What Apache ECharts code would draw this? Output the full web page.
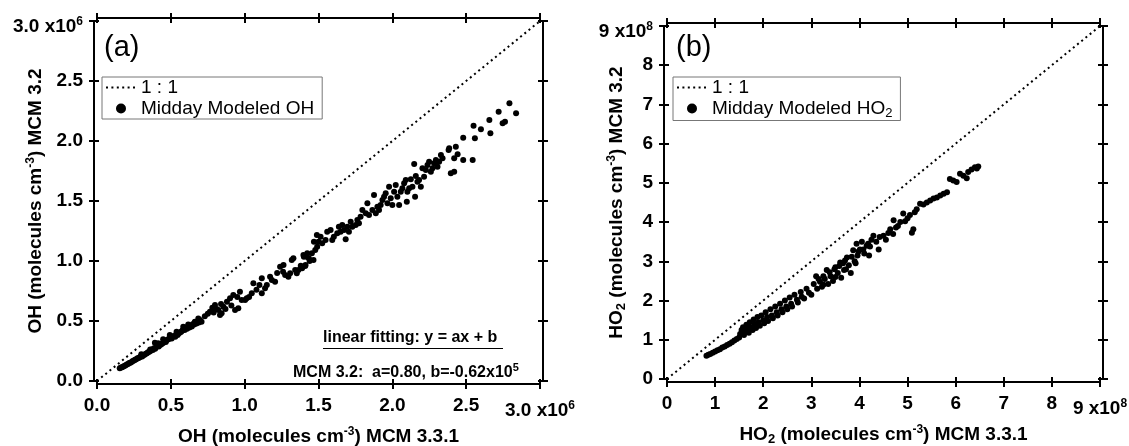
<!doctype html>
<html lang="en">
  <head>
    <meta charset="utf-8">
    <title>MCM 3.2 vs MCM 3.3.1 midday OH and HO2</title>
    <script src="https://cdn.jsdelivr.net/npm/echarts@6/dist/echarts.min.js"></script>
    <style>
      html, body { margin: 0; padding: 0; background: #fff; }
      #chart { width: 1129px; height: 446px; }
    </style>
  </head>
  <body>
    <div id="chart"></div>

  <script>
    // values
    // OH in units of 1e6 molecules cm-3 : [MCM 3.3.1, MCM 3.2]
    var ohMidday = [
      [0.154,0.106],[0.162,0.112],[0.170,0.115],[0.178,0.121],[0.186,0.126],[0.194,0.131],[0.202,0.138],[0.210,0.141],
      [0.218,0.149],[0.226,0.153],[0.234,0.158],[0.242,0.166],[0.250,0.170],[0.258,0.178],[0.266,0.181],[0.274,0.190],
      [0.282,0.192],[0.290,0.198],[0.298,0.207],[0.306,0.205],[0.314,0.214],[0.322,0.219],[0.330,0.228],[0.338,0.231],
      [0.346,0.240],[0.354,0.243],[0.362,0.250],[0.370,0.262],[0.378,0.259],[0.386,0.272],[0.394,0.268],[0.402,0.285],
      [0.410,0.291],[0.418,0.288],[0.426,0.300],[0.434,0.305],[0.442,0.312],[0.450,0.318],[0.458,0.331],[0.466,0.326],
      [0.474,0.342],[0.482,0.347],[0.490,0.352],[0.498,0.360],[0.506,0.355],[0.514,0.370],[0.522,0.375],[0.530,0.368],
      [0.538,0.392],[0.546,0.383],[0.554,0.398],[0.562,0.405],[0.570,0.411],[0.578,0.420],[0.586,0.432],[0.594,0.424],
      [0.602,0.446],[0.610,0.436],[0.618,0.452],[0.626,0.446],[0.634,0.462],[0.642,0.455],[0.650,0.475],[0.658,0.470],
      [0.666,0.492],[0.674,0.480],[0.686,0.520],[0.690,0.488],[0.698,0.508],[0.708,0.494],
      [0.300,0.222],[0.360,0.262],[0.392,0.319],[0.414,0.314],[0.448,0.347],[0.493,0.383],[0.539,0.411],[0.584,0.453],
      [0.618,0.470],[0.663,0.494],
      [0.730,0.540],[0.750,0.560],[0.765,0.578],[0.781,0.611],[0.790,0.570],[0.799,0.633],[0.810,0.600],[0.822,0.592],
      [0.833,0.550],[0.840,0.642],[0.844,0.564],[0.856,0.619],[0.870,0.600],[0.880,0.660],[0.901,0.689],[0.910,0.630],
      [0.923,0.717],[0.935,0.592],[0.950,0.700],[0.957,0.606],[0.968,0.744],[0.980,0.675],[1.003,0.675],[1.014,0.689],
      [1.030,0.700],[1.048,0.731],[1.059,0.814],[1.080,0.760],[1.100,0.800],[1.116,0.856],[1.116,0.731],[1.138,0.772],
      [1.150,0.800],[1.172,0.869],[1.184,0.842],[1.206,0.828],[1.220,0.900],[1.240,0.953],[1.260,0.910],[1.263,0.967],
      [1.274,0.883],[1.296,0.869],[1.308,0.897],[1.319,1.008],[1.330,1.022],[1.342,0.925],[1.353,0.897],[1.364,0.925],
      [1.380,0.960],[1.389,0.939],[1.398,1.050],[1.401,1.036],[1.410,0.958],[1.412,0.967],[1.421,1.036],[1.424,1.064],
      [1.435,1.022],[1.440,1.000],[1.455,1.064],[1.466,1.008],[1.469,1.161],[1.478,1.092],[1.489,1.217],[1.491,1.119],
      [1.500,1.161],[1.514,1.203],[1.525,1.147],[1.548,1.175],[1.559,1.244],[1.582,1.258],[1.593,1.175],[1.604,1.203],
      [1.627,1.231],[1.638,1.286],[1.650,1.244],[1.661,1.300],[1.673,1.258],[1.684,1.181],[1.695,1.286],[1.706,1.244],
      [1.718,1.328],[1.729,1.286],[1.752,1.300],[1.763,1.342],[1.774,1.314],[1.785,1.369],[1.797,1.425],[1.820,1.397],
      [1.831,1.481],[1.842,1.383],[1.865,1.425],[1.876,1.550],[1.888,1.397],[1.899,1.453],[1.910,1.425],[1.921,1.467],
      [1.933,1.508],[1.944,1.536],[1.955,1.564],[1.967,1.481],[1.978,1.619],[1.989,1.522],[2.000,1.467],[2.012,1.578],
      [2.023,1.633],[2.034,1.536],[2.046,1.467],[2.057,1.578],[2.068,1.606],[2.080,1.647],[2.091,1.675],[2.098,1.494],
      [2.102,1.578],[2.114,1.606],[2.125,1.681],[2.136,1.619],[2.148,1.808],[2.154,1.536],[2.159,1.708],[2.170,1.661],
      [2.181,1.675],[2.193,1.619],[2.204,1.772],[2.215,1.703],[2.227,1.758],[2.238,1.800],[2.249,1.828],[2.261,1.744],
      [2.272,1.772],[2.283,1.814],[2.295,1.842],[2.306,1.786],[2.317,1.828],[2.329,1.883],[2.340,1.856],[2.381,1.925],
      [2.385,1.939],[2.396,1.731],[2.419,1.744],[2.419,1.856],[2.430,1.953],[2.442,1.889],[2.480,2.028],[2.480,1.842],
      [2.544,1.842],[2.550,2.128],[2.559,2.022],[2.600,2.097],[2.657,2.175],[2.664,2.064],[2.720,2.244],[2.747,2.147],
      [2.763,2.161],[2.793,2.314],[2.838,2.231]
    ];

    // HO2 in units of 1e8 molecules cm-3 : [MCM 3.3.1, MCM 3.2]
    var ho2Midday = [
      [0.82,0.59],[0.86,0.62],[0.90,0.64],[0.95,0.67],[1.00,0.70],[1.05,0.73],[1.10,0.76],[1.15,0.80],[1.20,0.83],
      [1.25,0.87],[1.30,0.90],[1.35,0.94],[1.40,0.98],[1.45,1.02],
      [1.50,1.06],[1.52,1.15],[1.55,1.25],[1.58,1.32],[1.60,1.12],[1.62,1.20],[1.65,1.38],[1.68,1.28],[1.70,1.18],
      [1.72,1.45],[1.75,1.32],[1.78,1.25],[1.80,1.52],[1.82,1.40],[1.85,1.30],[1.88,1.58],[1.90,1.45],[1.93,1.36],
      [1.96,1.62],[2.00,1.50],[2.02,1.42],[2.05,1.70],[2.08,1.58],[2.10,1.48],[2.15,1.78],[2.18,1.62],[2.20,1.55],
      [2.25,1.85],[2.28,1.70],[2.30,1.62],[2.35,1.92],[2.38,1.78],[2.40,1.70],[2.45,2.00],[2.48,1.85],[2.50,1.78],
      [2.55,2.08],[2.58,1.92],[2.60,1.85],[2.65,2.15],[2.70,2.02],[2.72,1.95],[2.78,2.22],[2.80,2.10],[2.85,2.05],
      [2.90,2.30],[2.95,2.20],[3.00,2.15],
      [3.05,2.42],[3.10,2.62],[3.12,2.30],[3.18,2.48],[3.22,2.35],[3.28,2.55],[3.32,2.78],[3.35,2.42],[3.40,2.62],
      [3.45,2.50],[3.50,2.85],[3.55,2.70],[3.60,2.97],[3.62,2.58],[3.68,2.78],[3.74,3.10],[3.78,2.90],[3.82,2.70],
      [3.87,3.28],[3.90,3.00],[3.94,3.45],[3.96,3.15],[4.01,3.30],[4.05,3.50],[4.10,3.20],[4.15,3.40],[4.22,3.38],
      [4.29,3.65],[4.35,3.50],[4.40,3.30],[4.50,3.65],[4.55,3.55],[4.64,3.82],[4.70,3.70],[4.71,4.05],[4.80,3.90],
      [4.85,4.00],[4.91,4.22],[5.00,4.10],[5.09,3.73],[5.12,3.82],[5.19,4.33],[5.26,4.47],[5.33,4.45],[5.40,4.50],
      [5.47,4.55],[5.54,4.60],[5.61,4.63],[5.68,4.68],[5.75,4.72],[5.82,4.76],[5.88,5.10],[5.95,5.06],[6.02,5.02],
      [6.09,5.23],[6.16,5.18],[6.23,5.12],[6.26,5.28],[6.33,5.34],[6.40,5.40],[6.44,5.37],[6.47,5.42],
      [3.15,2.55],[3.25,2.62],[3.38,2.72],[3.48,2.80],[3.58,2.88],[3.66,2.95],[3.70,3.02],[3.84,3.12],[3.98,3.25],
      [4.08,3.30],[4.18,3.45],[4.25,3.55],[4.42,3.62],[4.60,3.72],[4.76,3.86],[4.95,4.02],[5.05,4.18],[5.15,4.25],
      [3.25,2.40],[3.50,2.60],[3.72,2.80],[3.92,2.95],[4.20,3.15]
    ];

    var oneToOneOH = [[0, 0], [3, 3]];
    var oneToOneHO2 = [[0, 0], [9, 9]];
    var legendOH = ['1 : 1', 'Midday Modeled OH'];
    var legendHO2 = ['1 : 1', 'Midday Modeled HO2'];

    var font = '"Liberation Sans", Arial, Helvetica, sans-serif';

    var chart = echarts.init(document.getElementById('chart'), null, { renderer: 'canvas' });

    var tickRich = {
      by: { fontSize: 19, fontWeight: 'bold', fontFamily: font, color: '#000', padding: [12, 0, 0, 0] },
      py: { fontSize: 12, fontWeight: 'bold', fontFamily: font, color: '#000', padding: [12, 0, 10, 0] },
      bx: { fontSize: 19, fontWeight: 'bold', fontFamily: font, color: '#000', lineHeight: 30 },
      p: { fontSize: 12, fontWeight: 'bold', fontFamily: font, color: '#000', padding: [0, 0, 10, 0] }
    };
    var nameRich = {
      sp: { fontSize: 12, fontWeight: 'bold', fontFamily: font, color: '#000', padding: [0, 0, 10, 0] },
      sb: { fontSize: 13, fontWeight: 'bold', fontFamily: font, color: '#000', padding: [9, 0, 0, 0] }
    };

    // one side of the box is two axes: ticks outside + ticks inside, so they cross like the original
    function sideAxes(dim, grid, max, step, pos, withLabels, fmt, name, nameGap) {
      var list = [];
      [false, true].forEach(function (inside, k) {
        var a = {
          type: 'value', gridIndex: grid, position: pos, offset: 3,
          min: 0, max: max, interval: step,
          splitLine: { show: false },
          axisLine: { show: k === 0, onZero: false, lineStyle: { color: '#000', width: 2 } },
          axisTick: { show: true, inside: inside, length: 5, lineStyle: { color: '#000', width: 2 } },
          axisLabel: { show: false }
        };
        if (k === 0 && withLabels) {
          a.axisLabel = {
            show: true, margin: dim === 'x' ? 12 : 11,
            formatter: fmt, rich: tickRich,
            fontSize: 19, fontWeight: 'bold', fontFamily: font, color: '#000'
          };
          a.name = name;
          a.nameLocation = 'middle';
          a.nameGap = nameGap;
          a.nameMoveOverlap = false;
          a.nameTextStyle = { fontSize: 19, fontWeight: 'bold', fontFamily: font, color: '#000', rich: nameRich };
        }
        list.push(a);
      });
      return list;
    }

    function fmtOH(dim) {
      return function (v) {
        if (Math.abs(v - 3) < 1e-9) return dim === 'x' ? '{bx|3.0 x10}{p|6}' : '{by|3.0 x10}{py|6}';
        return v.toFixed(1);
      };
    }
    function fmtHO2(dim) {
      return function (v) {
        if (Math.abs(v - 9) < 1e-9) return dim === 'x' ? '{bx|9 x10}{p|8}' : '{by|9 x10}{py|8}';
        return v.toFixed(0);
      };
    }

    var xAxes = [].concat(
      sideAxes('x', 0, 3, 0.5, 'bottom', true, fmtOH('x'), 'OH (molecules cm{sp|-3}) MCM 3.3.1', 42),
      sideAxes('x', 0, 3, 0.5, 'top', false),
      sideAxes('x', 1, 9, 1, 'bottom', true, fmtHO2('x'), 'HO{sb|2} (molecules cm{sp|-3}) MCM 3.3.1', 42),
      sideAxes('x', 1, 9, 1, 'top', false)
    );
    var yAxes = [].concat(
      sideAxes('y', 0, 3, 0.5, 'left', true, fmtOH('y'), 'OH (molecules cm{sp|-3}) MCM 3.2', 47),
      sideAxes('y', 0, 3, 0.5, 'right', false),
      sideAxes('y', 1, 9, 1, 'left', true, fmtHO2('y'), 'HO{sb|2} (molecules cm{sp|-3}) MCM 3.2', 36),
      sideAxes('y', 1, 9, 1, 'right', false)
    );

    var dotted = { color: '#000', width: 2, type: [2, 3.4], cap: 'butt' };

    function legendFor(names, left) {
      return {
        data: names, left: left, top: 77, orient: 'vertical',
        itemWidth: 30, itemHeight: 10, itemGap: 2,
        padding: [1, 8, 1, 3],
        borderColor: '#777', borderWidth: 1, backgroundColor: '#fff',
        selectedMode: false,
        formatter: function (n) { return n.replace('HO2', 'HO{s|2}'); },
        textStyle: {
          fontSize: 19, fontFamily: font, color: '#000',
          rich: { s: { fontSize: 13, fontFamily: font, color: '#000', padding: [9, 0, 0, 0] } }
        }
      };
    }

    var option = {
      animation: false,
      backgroundColor: '#fff',
      title: [
        { text: '(a)', left: 104, top: 33, padding: 0, textStyle: { fontSize: 29, fontWeight: 'normal', fontFamily: font, color: '#000' } },
        { text: '(b)', left: 676, top: 33, padding: 0, textStyle: { fontSize: 29, fontWeight: 'normal', fontFamily: font, color: '#000' } }
      ],
      legend: [legendFor(legendOH, 102), legendFor(legendHO2, 673)],
      grid: [
        { left: 97, top: 21, width: 443, height: 360, outerBoundsMode: 'none' },
        { left: 667, top: 26, width: 433, height: 353, outerBoundsMode: 'none' }
      ],
      xAxis: xAxes,
      yAxis: yAxes,
      graphic: [
        {
          type: 'text', left: 323, top: 330,
          style: { text: 'linear fitting: y = ax + b', fontSize: 16, fontWeight: 'bold', fontFamily: font, fill: '#000' }
        },
        {
          type: 'line', shape: { x1: 323, y1: 348.5, x2: 503, y2: 348.5 },
          style: { stroke: '#000', lineWidth: 1 }
        },
        {
          type: 'text', left: 293, top: 362,
          style: {
            text: 'MCM 3.2:  a=0.80, b=-0.62x10{p|5}', fontSize: 16, fontWeight: 'bold', fontFamily: font, fill: '#000',
            rich: { p: { fontSize: 11, fontWeight: 'bold', fontFamily: font, fill: '#000', padding: [0, 0, 10, 0] } }
          }
        }
      ],
      series: [
        {
          name: '1 : 1', type: 'line', xAxisIndex: 0, yAxisIndex: 0,
          data: oneToOneOH, symbol: 'none', lineStyle: dotted,
          itemStyle: { color: '#000', opacity: 0 }, z: 1
        },
        {
          name: 'Midday Modeled OH', type: 'scatter', xAxisIndex: 0, yAxisIndex: 0,
          data: ohMidday, symbol: 'circle', symbolSize: 6, itemStyle: { color: '#000', opacity: 1 }, z: 2
        },
        {
          name: '1 : 1', type: 'line', xAxisIndex: 4, yAxisIndex: 4,
          data: oneToOneHO2, symbol: 'none', lineStyle: dotted,
          itemStyle: { color: '#000', opacity: 0 }, z: 1
        },
        {
          name: 'Midday Modeled HO2', type: 'scatter', xAxisIndex: 4, yAxisIndex: 4,
          data: ho2Midday, symbol: 'circle', symbolSize: 6, itemStyle: { color: '#000', opacity: 1 }, z: 2
        }
      ]
    };

    chart.setOption(option);
  </script>
  </body>
</html>
